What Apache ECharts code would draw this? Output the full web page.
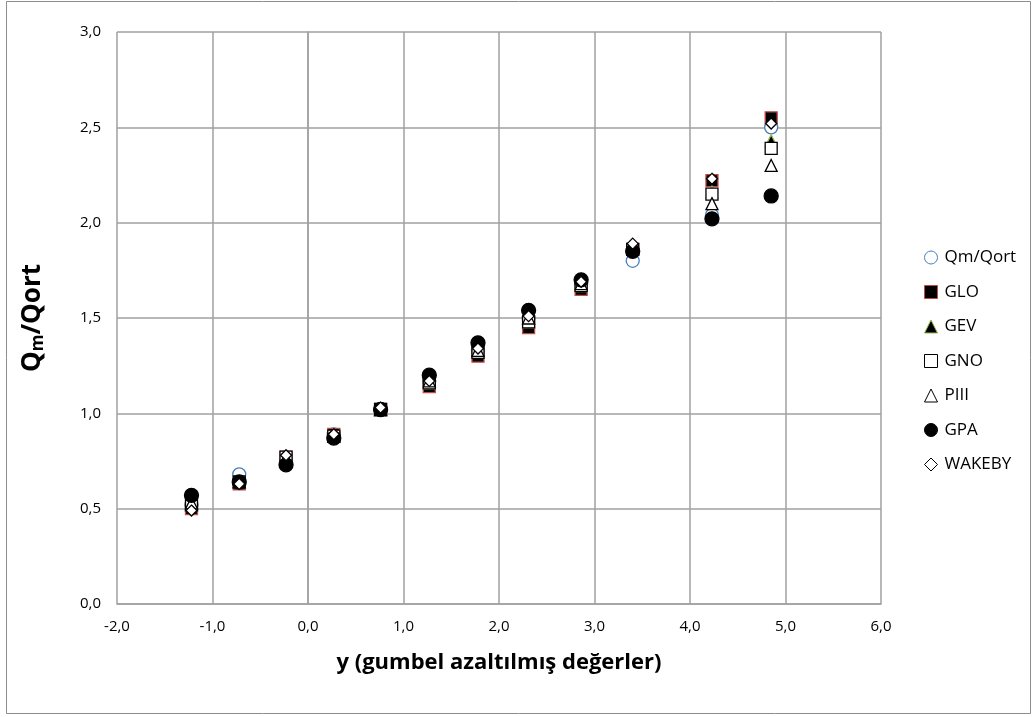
<!DOCTYPE html>
<html><head><meta charset="utf-8">
<script src="https://cdn.jsdelivr.net/npm/echarts@6/dist/echarts.min.js"></script>
<style>html,body{margin:0;padding:0;background:#fff}#c{width:1032px;height:717px}</style>
</head><body><div id="c"></div>
<script>
const yReduced = [-1.22, -0.72, -0.23, 0.27, 0.76, 1.27, 1.78, 2.31, 2.86, 3.40, 4.23, 4.85];
const qmQort = [0.52, 0.68, 0.75, 0.89, 1.02, 1.17, 1.33, 1.50, 1.68, 1.80, 2.04, 2.50];
const glo    = [0.50, 0.63, 0.77, 0.89, 1.02, 1.14, 1.30, 1.45, 1.65, 1.86, 2.22, 2.55];
const gev    = [0.52, 0.64, 0.77, 0.88, 1.02, 1.16, 1.32, 1.48, 1.67, 1.86, 2.16, 2.43];
const gno    = [0.52, 0.64, 0.77, 0.88, 1.02, 1.16, 1.32, 1.48, 1.67, 1.86, 2.15, 2.39];
const piii   = [0.53, 0.64, 0.76, 0.88, 1.02, 1.17, 1.33, 1.50, 1.68, 1.87, 2.10, 2.30];
const gpa    = [0.57, 0.64, 0.73, 0.87, 1.02, 1.20, 1.37, 1.54, 1.70, 1.85, 2.02, 2.14];
const wakeby = [0.49, 0.63, 0.78, 0.89, 1.03, 1.17, 1.34, 1.51, 1.69, 1.89, 2.23, 2.52];
const seriesNames = ['Qm/Qort', 'GLO', 'GEV', 'GNO', 'PIII', 'GPA', 'WAKEBY'];

const FONT = '"Open Sans", "Liberation Sans", sans-serif';
const fmt = v => v.toFixed(1).replace('.', ',');
const pair = arr => arr.map((v, i) => [yReduced[i], v]);

const styles = [
  {symbol: 'circle', size: 13, color: '#ffffff', border: '#4a7ebb'},
  {symbol: 'rect', size: 12, color: '#000000', border: '#be4b48'},
  {symbol: 'triangle', size: 12, color: '#000000', border: '#98b954'},
  {symbol: 'rect', size: 12, color: '#ffffff', border: '#000000'},
  {symbol: 'triangle', size: 12, color: '#ffffff', border: '#000000'},
  {symbol: 'circle', size: 14, color: '#000000', border: '#000000'},
  {symbol: 'diamond', size: 11, color: '#ffffff', border: '#000000'}
];
const datasets = [qmQort, glo, gev, gno, piii, gpa, wakeby];

const chart = echarts.init(document.getElementById('c'), null, {renderer: 'canvas'});
chart.setOption({
  animation: false,
  backgroundColor: '#ffffff',
  graphic: [{
    type: 'rect', shape: {x: 6.5, y: 1.5, width: 1024, height: 712},
    style: {fill: 'none', stroke: '#8c8c8c', lineWidth: 1}, silent: true, z: -1
  }],
  grid: {left: 117, top: 32, right: 151, bottom: 113, containLabel: false},
  legend: {
    orient: 'vertical', left: 919, top: 242,
    itemWidth: 13, itemHeight: 13, itemGap: 13.5,
    textStyle: {fontFamily: FONT, fontSize: 17, color: '#000', lineHeight: 21, padding: [0, 0, 0, 2]},
    data: seriesNames.map(n => ({name: n, itemStyle: {borderWidth: 1}}))
  },
  xAxis: {
    type: 'value', min: -2, max: 6, interval: 1,
    axisLine: {show: true, lineStyle: {color: '#a0a0a0', width: 1.5}},
    axisTick: {show: false},
    splitLine: {show: true, lineStyle: {color: '#a0a0a0', width: 1.5}},
    axisLabel: {formatter: fmt, fontFamily: FONT, fontSize: 15, color: '#000', margin: 15},
    name: 'y (gumbel azaltılmış değerler)', nameLocation: 'middle', nameGap: 48,
    nameTextStyle: {fontFamily: FONT, fontSize: 22, fontWeight: 'bold', color: '#000'}
  },
  yAxis: {
    type: 'value', min: 0, max: 3, interval: 0.5,
    axisLine: {show: true, lineStyle: {color: '#a0a0a0', width: 1.5}},
    axisTick: {show: false},
    splitLine: {show: true, lineStyle: {color: '#a0a0a0', width: 1.5}},
    axisLabel: {formatter: fmt, fontFamily: FONT, fontSize: 15, color: '#000', margin: 16},
    name: '{a|Q}{s|m}{a|/Qort}', nameLocation: 'middle', nameGap: 70, nameRotate: 90,
    nameTextStyle: {
      rich: {
        a: {fontFamily: FONT, fontSize: 26, fontWeight: 'bold', color: '#000'},
        s: {fontFamily: FONT, fontSize: 17, fontWeight: 'bold', color: '#000', padding: [12, 0, 0, 0]}
      }
    }
  },
  series: seriesNames.map((n, i) => ({
    name: n, type: 'scatter', data: pair(datasets[i]),
    symbol: styles[i].symbol, symbolSize: styles[i].size,
    itemStyle: {color: styles[i].color, borderColor: styles[i].border, borderWidth: 1.3, opacity: 1},
    z: 2 + i
  }))
});
</script></body></html>
